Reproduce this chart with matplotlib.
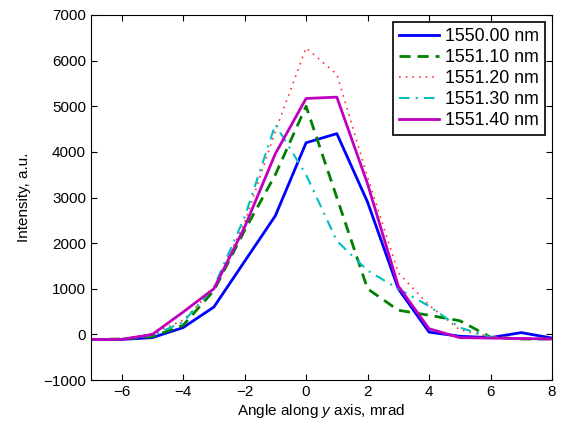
import matplotlib
matplotlib.use("Agg")
import matplotlib.pyplot as plt

plt.rcParams['font.family'] = ['Liberation Sans', 'DejaVu Sans']
plt.rcParams['mathtext.fontset'] = 'custom'
plt.rcParams['mathtext.it'] = 'Liberation Sans:italic'
plt.rcParams['mathtext.rm'] = 'Liberation Sans'

x = [-7, -6, -5, -4, -3, -2, -1, 0, 1, 2, 3, 4, 5, 6, 7, 8]
s1550_00 = [-110, -110, -70, 150, 600, 1600, 2600, 4200, 4400, 2900, 1000, 50, -40, -70, 40, -80]
s1551_10 = [-110, -100, -50, 200, 960, 2280, 3500, 5000, 3000, 1000, 530, 420, 300, -60, -100, -100]
s1551_20 = [-110, -100, 20, 310, 1000, 2450, 4450, 6280, 5700, 3450, 1350, 640, 100, -50, -80, -100]
s1551_30 = [-110, -100, -20, 270, 1040, 2570, 4600, 3500, 2050, 1400, 1000, 620, 150, -60, -100, -100]
s1551_40 = [-110, -110, 0, 490, 1000, 2350, 3960, 5170, 5200, 3300, 1060, 125, -70, -80, -90, -100]
labels = ['1550.00 nm', '1551.10 nm', '1551.20 nm', '1551.30 nm', '1551.40 nm']

fig = plt.figure(figsize=(5.61, 4.28), dpi=100)
ax = fig.add_axes([0.162, 0.112, 0.822, 0.853])

ax.plot(x, s1550_00, color=(0, 0, 1), lw=2, ls='-', label=labels[0])
ax.plot(x, s1551_10, color=(0, 0.5, 0), lw=2, ls=(0, (4, 2.5)), label=labels[1])
ax.plot(x, s1551_20, color=(1, 0.2, 0.2), lw=1.2, ls=(0, (1, 3)), label=labels[2])
ax.plot(x, s1551_30, color=(0, 0.75, 0.75), lw=1.5, ls=(0, (5, 3, 1, 3)), label=labels[3])
ax.plot(x, s1551_40, color=(0.75, 0, 0.75), lw=2, ls='-', label=labels[4])

ax.set_xlim(-7, 8)
ax.set_ylim(-1000, 7000)
ax.set_xticks([-6, -4, -2, 0, 2, 4, 6, 8])
ax.set_yticks(range(-1000, 7001, 1000))
ax.tick_params(direction='in', top=True, right=True, labelsize=11, length=4)
ax.set_xlabel('Angle along $\\mathit{y}$ axis, mrad', fontsize=11, labelpad=2)
ax.set_ylabel('Intensity, a.u.', fontsize=11, labelpad=9)
for sp in ax.spines.values():
    sp.set_linewidth(0.8)

leg = ax.legend(loc='upper right', fontsize=12.8, fancybox=False, framealpha=1,
                edgecolor='black', handlelength=2.25, borderaxespad=0.4,
                labelspacing=0.22, handletextpad=0.33, borderpad=0.35)
leg.get_frame().set_linewidth(1.2)

fig.savefig('out.png', dpi=100)
